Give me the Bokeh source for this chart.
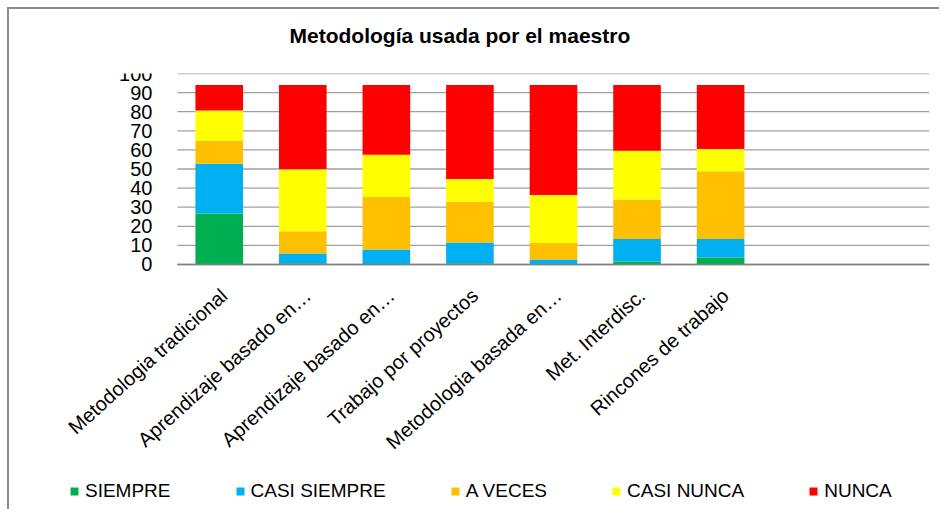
import math
from bokeh.plotting import figure
from bokeh.models import Legend, LegendItem, Range1d, Title, ColumnDataSource
from bokeh.core.properties import value
from bokeh.embed import file_html
from bokeh.resources import INLINE

categories = ["Metodologia tradicional", "Aprendizaje basado en…", "Aprendizaje basado en…",
              "Trabajo por proyectos", "Metodologia basada en…", "Met. Interdisc.",
              "Rincones de trabajo"]
series_names = ["SIEMPRE", "CASI SIEMPRE", "A VECES", "CASI NUNCA", "NUNCA"]
siempre = [26.7, 0.7, 0.0, 0.7, 0.0, 1.6, 3.7]
casi_siempre = [26.1, 5.0, 7.8, 10.8, 2.6, 11.8, 9.7]
a_veces = [12.1, 11.7, 27.7, 21.4, 8.7, 20.6, 35.4]
casi_nunca = [15.7, 32.4, 22.0, 11.9, 25.1, 25.6, 11.7]
nunca = [13.4, 44.2, 36.5, 49.2, 57.6, 34.4, 33.5]
colors = ["#00B050", "#00B0F0", "#FFC000", "#FFFF00", "#FF0000"]
y_ticks = list(range(0, 101, 10))
y_tick_labels = [str(t) for t in y_ticks]
n_slots = 9
title_text = "Metodología usada por el maestro"

xs = list(range(1, len(categories) + 1))
x_first = xs[0] - 0.5
x_last = n_slots + 0.5
data = {"x": xs, "SIEMPRE": siempre, "CASI SIEMPRE": casi_siempre, "A VECES": a_veces,
        "CASI NUNCA": casi_nunca, "NUNCA": nunca}
label_src = ColumnDataSource({"x": xs, "y": [0] * len(xs), "label": categories})
grid_src = ColumnDataSource({"x0": [x_first] * len(y_ticks), "x1": [x_last] * len(y_ticks),
                             "y": y_ticks, "label": y_tick_labels})

# the frame covers the whole drawing area; axes, tick labels and legend are drawn inside it
p = figure(frame_width=920, frame_height=432, output_backend="svg", toolbar_location=None,
           x_range=Range1d(-1.51, x_last), y_range=Range1d(-126.2, 100),
           title=None, x_axis_location=None, y_axis_location=None,
           min_border_left=0, min_border_right=10, min_border_top=64, min_border_bottom=4,
           styles={"margin-left": "7px", "margin-top": "7px",
                   "border-left": "2px solid #8c8c8c", "border-top": "2px solid #8c8c8c"})
p.outline_line_color = None
p.xgrid.visible = False
p.ygrid.visible = False

# horizontal grid lines at the value ticks
p.segment(x0="x0", y0="y", x1="x1", y1="y", source=grid_src, line_color="#a0a0a0", line_width=1.3)

renderers = p.vbar_stack(series_names, x="x", width=0.57, source=data, color=colors,
                         line_color=None)

# category baseline
p.segment(x0=[x_first], y0=[y_ticks[0]], x1=[x_last], y1=[y_ticks[0]],
          line_color="#808080", line_width=1.5)

# value tick labels
p.text(x="x0", y="y", text="label", source=grid_src, text_align="right",
       text_baseline="middle", x_offset=-25, text_font=value("Liberation Sans"),
       text_font_size="20px", text_color="#000000")

# category labels
p.text(x="x", y="y", text="label", source=label_src, angle=math.radians(42),
       text_align="right", text_baseline="middle", x_offset=5, y_offset=28,
       text_font=value("Liberation Sans"), text_font_size="20px", text_color="#000000")

# spacer between frame and title (first added sits closest to the frame)
p.add_layout(Title(text=" ", text_font_size="18px", standoff=5), "above")
p.add_layout(Title(text=title_text, align="left", offset=280, standoff=0,
                   text_font="Liberation Sans", text_font_size="21px",
                   text_font_style="bold", text_color="#000000"), "above")

legend = Legend(items=[LegendItem(label=n, renderers=[r]) for n, r in zip(series_names, renderers)],
                orientation="horizontal", location=(60, 3),
                label_text_font="Liberation Sans", label_text_font_size="19px",
                label_text_color="#000000",
                glyph_width=10, glyph_height=10, spacing=64, label_standoff=6,
                border_line_color=None, background_fill_alpha=0, margin=0, padding=2)
p.add_layout(legend, "center")

open("out.html", "w").write(file_html(p, INLINE))
